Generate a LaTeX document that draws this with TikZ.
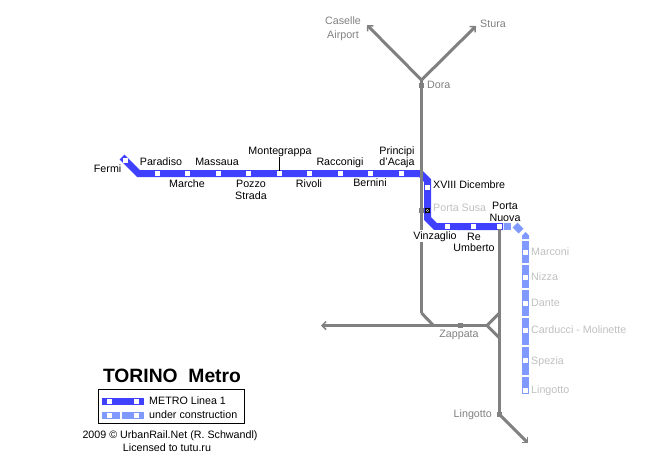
\documentclass[tikz,border=0pt]{standalone}
\usepackage{fontspec}
\setmainfont{Liberation Sans}
\usetikzlibrary{arrows.meta}
\definecolor{metroblue}{HTML}{4040FF}
\definecolor{buildblue}{HTML}{8099FF}
\definecolor{railgray}{HTML}{808080}
\definecolor{palegray}{HTML}{C0C0C0}
\tikzset{
  >={Straight Barb[length=4pt,width=8pt,line width=1.5pt]},
  lblbase/.style={inner sep=0pt,font=\fontsize{10.7}{11.5}\selectfont},
  lbl/.style={lblbase,text height=7.5pt,text depth=0pt},
  twolbl/.style={lblbase,align=center},
  railtxt/.style={text=railgray},
  buildtxt/.style={text=palegray},
  stn/.style={fill=white,inner sep=0pt,minimum size=5pt},
  railstn/.style={fill=railgray,inner sep=0pt,minimum size=5.5pt},
  metro/.style={metroblue,line width=7pt},
  build/.style={buildblue,line width=7pt},
  rail/.style={railgray,line width=3pt},
}
\begin{document}
\begin{tikzpicture}[x=1pt,y=-1pt]
\useasboundingbox (0,0) rectangle (668,472);
% bends
\coordinate (fermitip) at (122,157);
\coordinate (fermibend) at (138.5,173.5);
\coordinate (turnin) at (420.5,173.5);
\coordinate (turndown) at (427.5,180.5);
\coordinate (turnout) at (427.5,218.5);
\coordinate (turnright) at (435.5,226.5);
\coordinate (metroend) at (503,226.5);
\coordinate (dorafork) at (421.5,80);
\coordinate (caselleend) at (367,25);
\coordinate (sturaend) at (476,26);
\coordinate (railbend) at (421.5,313);
\coordinate (railjoin) at (433.5,325.5);
\coordinate (westend) at (321,325.5);
\coordinate (forkpoint) at (487,325.5);
\coordinate (forktop) at (499.5,313);
\coordinate (forkbot) at (499.5,338);
\coordinate (southend) at (528,443);
\coordinate (nuovatop) at (499.5,226.5);
% metro line
\draw[metro] (fermitip) -- (fermibend) -- (turnin) -- (turndown) -- (turnout) -- (turnright) -- (metroend);
% rail lines
\node[railstn] (lingottorail) at (499.5,414.5) {};
\draw[rail] (nuovatop) -- (forktop) -- (forkbot) -- (lingottorail.center);
\draw[rail,->] (lingottorail.center) -- (southend);
\draw[rail] (forktop) -- (forkpoint) -- (forkbot);
\node[railstn] (zappata) at (460.5,325.5) {};
\draw[rail,->] (forkpoint) -- (zappata.center) -- (westend);
\draw[rail] (railbend) -- (railjoin);
\draw[rail,->] (dorafork) -- (caselleend);
\draw[rail,->] (dorafork) -- (sturaend);
\node[railstn] (dora) at (421.5,85.5) {};
\node[railstn] (susarail) at (421.5,210.5) {};
\draw[rail] (dorafork) -- (dora.center) -- (susarail.center) -- (railbend);
\node[lbl,fill=white,inner ysep=2.5pt] (vinzagliolbl) at (435,236) {Vinzaglio};
% stations
\node[stn,minimum size=4.5pt] (fermi) at (125.5,160.5) {};
\node[stn] (paradiso) at (157.5,173.5) {};
\node[stn] (marche) at (187.5,173.5) {};
\node[stn] (massaua) at (218.5,173.5) {};
\node[stn] (pozzo) at (248.5,173.5) {};
\node[stn] (montegrappa) at (279.5,173.5) {};
\node[stn] (rivoli) at (309.5,173.5) {};
\node[stn] (racconigi) at (340.5,173.5) {};
\node[stn] (bernini) at (370.5,173.5) {};
\node[stn] (principi) at (401.5,173.5) {};
\node[stn] (dicembre) at (427.5,187.5) {};
\node[stn,draw=black,line width=0.7pt,minimum size=4.5pt] (susa) at (427.5,210.5) {};
\node[stn] (vinzaglio) at (447.5,226.5) {};
\node[stn] (umberto) at (473.5,226.5) {};
\node[stn] (nuova) at (499.5,226.5) {};
\draw[line width=0.7pt] (susa.south west) -- (susa.north east) (susa.north west) -- (susa.south east);
\coordinate (montetick) at (279.5,157);
\draw[black,line width=1pt] (montetick) -- (montegrappa.north);
% under construction
\coordinate (buildatop) at (504,226.5);
\coordinate (buildaend) at (511,226.5);
\coordinate (buildbtop) at (515,225);
\coordinate (buildbend) at (521,231);
\coordinate (marconitop) at (525.5,241);
\coordinate (marconiend) at (525.5,263);
\coordinate (nizzatop) at (525.5,265);
\coordinate (nizzaend) at (525.5,288);
\coordinate (dantetop) at (525.5,290);
\coordinate (danteend) at (525.5,316);
\coordinate (carduccitop) at (525.5,318);
\coordinate (carduccend) at (525.5,345);
\coordinate (speziatop) at (525.5,347);
\coordinate (speziaend) at (525.5,375);
\coordinate (lingottotop) at (525.5,377);
\coordinate (lingottoend) at (525.5,394);
\draw[build] (buildatop) -- (buildaend);
\draw[build] (buildbtop) -- (buildbend);
\fill[buildblue] (525.5,232) -- (529,235.5) -- (529,239) -- (522,239) -- (522,235.5) -- cycle;
\draw[build] (marconitop) -- (marconiend);
\draw[build] (nizzatop) -- (nizzaend);
\draw[build] (dantetop) -- (danteend);
\draw[build] (carduccitop) -- (carduccend);
\draw[build] (speziatop) -- (speziaend);
\draw[build] (lingottotop) -- (lingottoend);
\node[stn] (marconi) at (525.5,252.5) {};
\node[stn] (nizza) at (525.5,277.5) {};
\node[stn] (dante) at (525.5,303.5) {};
\node[stn] (carducci) at (525.5,330.5) {};
\node[stn] (spezia) at (525.5,360.5) {};
\node[stn] (lingottob) at (525.5,390.5) {};
% labels
\node[lbl,anchor=east] (fermilbl) at (121.5,169) {Fermi};
\node[lbl] (paradisolbl) at (161,162) {Paradiso};
\node[lbl] (marchelbl) at (187,184) {Marche};
\node[lbl] (massaualbl) at (217,162) {Massaua};
\node[twolbl] (pozzolbl) at (251,190) {Pozzo\\Strada};
\node[lbl] (montelbl) at (280,151) {Montegrappa};
\node[lbl] (rivolilbl) at (309,184) {Rivoli};
\node[lbl] (racconigilbl) at (340,162) {Racconigi};
\node[lbl] (berninilbl) at (370,183) {Bernini};
\node[twolbl] (principilbl) at (397,157) {Principi\\d'Acaja};
\node[lbl,anchor=west] (dicembrelbl) at (433,185) {XVIII Dicembre};
\node[twolbl] (nuovalbl) at (505,212) {Porta\\Nuova};
\node[twolbl] (umbertolbl) at (474,242.5) {Re\\Umberto};
\node[lbl,buildtxt,anchor=west] (susalbl) at (433,208) {Porta Susa};
\node[lbl,buildtxt,anchor=west] (marconilbl) at (531,252) {Marconi};
\node[lbl,buildtxt,anchor=west] (nizzalbl) at (531,277) {Nizza};
\node[lbl,buildtxt,anchor=west] (dantelbl) at (531,303) {Dante};
\node[lbl,buildtxt,anchor=west] (carduccilbl) at (531,330) {Carducci - Molinette};
\node[lbl,buildtxt,anchor=west] (spezialbl) at (531,361) {Spezia};
\node[lbl,buildtxt,anchor=west] (lingottoblbl) at (531,390) {Lingotto};
\node[lbl,railtxt,anchor=west] (doralbl) at (427,85) {Dora};
\node[twolbl,railtxt] (casellelbl) at (343,28.5) {Caselle\\[2.5pt]Airport};
\node[lbl,railtxt] (sturalbl) at (493,24) {Stura};
\node[lbl,railtxt] (zappatalbl) at (459,334) {Zappata};
\node[lbl,railtxt,anchor=east] (lingottolbl) at (492,414) {Lingotto};
% legend
\node[inner sep=0pt,font=\bfseries\fontsize{19.3}{20}\selectfont] (title) at (172,376) {TORINO\ \ Metro};
\node[draw,black,line width=1pt,minimum width=146pt,minimum height=34pt,inner sep=0pt] (legend) at (171,406) {};
\coordinate (keyblueA) at (102,401.5);
\coordinate (keyblueB) at (143.5,401.5);
\coordinate (keybuildA) at (102,415.5);
\coordinate (keybuildB) at (120,415.5);
\coordinate (keybuildC) at (122,415.5);
\coordinate (keybuildD) at (144,415.5);
\draw[metro] (keyblueA) -- (keyblueB);
\draw[build] (keybuildA) -- (keybuildB);
\draw[build] (keybuildC) -- (keybuildD);
\node[stn] (keya) at (109.5,401.5) {};
\node[stn] (keyb) at (136.5,401.5) {};
\node[stn] (keyc) at (109.5,415.5) {};
\node[stn] (keyd) at (136.5,415.5) {};
\node[lbl,anchor=west] (keylblA) at (149,401) {METRO Linea 1};
\node[lbl,anchor=west] (keylblB) at (149,415) {under construction};
\node[lbl] (credit) at (170,435) {2009 © UrbanRail.Net (R. Schwandl)};
\node[lbl] (licence) at (167,448) {Licensed to tutu.ru};
\end{tikzpicture}
\end{document}
